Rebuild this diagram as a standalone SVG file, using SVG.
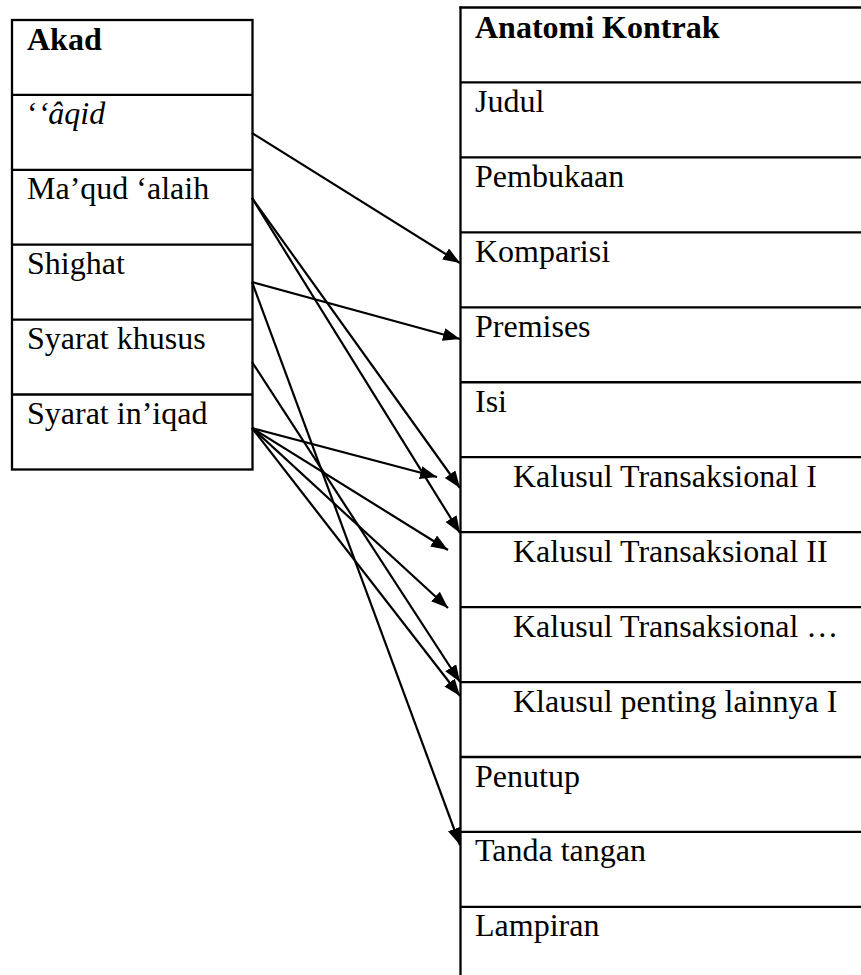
<svg xmlns="http://www.w3.org/2000/svg" width="861" height="975" viewBox="0 0 861 975">
<style>
text{font-family:"Liberation Serif","Times New Roman",serif;font-size:32px;fill:#000}
.b{font-weight:bold}
.i{font-style:italic}
.bd{stroke:#000;stroke-width:2.3;fill:none}
.c line{stroke:#000;stroke-width:2.2;marker-end:url(#ah)}
</style>
<defs>
<marker id="ah" markerUnits="userSpaceOnUse" markerWidth="18" markerHeight="14" refX="17" refY="6.5" orient="auto">
<path d="M0,0 L17,6.5 L0,13 z" fill="#000"/>
</marker>
</defs>
<rect width="861" height="975" fill="#fff"/>
<g id="akad">
<rect class="bd" x="12" y="20" width="240.5" height="449.5"/>
<g id="akad-title"><text class="b" x="27" y="50">Akad</text></g>
<g id="aqid"><line class="bd" x1="12" y1="94.9" x2="252.5" y2="94.9"/><text x="27" y="124.4">‘<tspan class="i">‘âqid</tspan></text></g>
<g id="maqud"><line class="bd" x1="12" y1="169.8" x2="252.5" y2="169.8"/><text x="27" y="199.3">Ma’qud ‘alaih</text></g>
<g id="shighat"><line class="bd" x1="12" y1="244.7" x2="252.5" y2="244.7"/><text x="27" y="274.2">Shighat</text></g>
<g id="syarat-khusus"><line class="bd" x1="12" y1="319.6" x2="252.5" y2="319.6"/><text x="27" y="349.1">Syarat khusus</text></g>
<g id="syarat-iniqad"><line class="bd" x1="12" y1="394.5" x2="252.5" y2="394.5"/><text x="27" y="424">Syarat in’iqad</text></g>
</g>
<g id="anatomi">
<line class="bd" x1="460.5" y1="6.4" x2="460.5" y2="975"/>
<g id="anatomi-title"><line class="bd" x1="459.4" y1="7.5" x2="861" y2="7.5"/><text class="b" x="475" y="38">Anatomi Kontrak</text></g>
<g id="judul"><line class="bd" x1="460.5" y1="82.45" x2="861" y2="82.45"/><text x="475" y="112">Judul</text></g>
<g id="pembukaan"><line class="bd" x1="460.5" y1="157.4" x2="861" y2="157.4"/><text x="475" y="186.9">Pembukaan</text></g>
<g id="komparisi"><line class="bd" x1="460.5" y1="232.35" x2="861" y2="232.35"/><text x="475" y="261.8">Komparisi</text></g>
<g id="premises"><line class="bd" x1="460.5" y1="307.3" x2="861" y2="307.3"/><text x="475" y="336.8">Premises</text></g>
<g id="isi"><line class="bd" x1="460.5" y1="382.25" x2="861" y2="382.25"/><text x="475" y="411.7">Isi</text></g>
<g id="kalusul-1"><line class="bd" x1="460.5" y1="457.2" x2="861" y2="457.2"/><text x="513" y="486.7">Kalusul Transaksional I</text></g>
<g id="kalusul-2"><line class="bd" x1="460.5" y1="532.15" x2="861" y2="532.15"/><text x="513" y="561.6">Kalusul Transaksional II</text></g>
<g id="kalusul-3"><line class="bd" x1="460.5" y1="607.1" x2="861" y2="607.1"/><text x="513" y="636.6">Kalusul Transaksional …</text></g>
<g id="klausul-penting"><line class="bd" x1="460.5" y1="682.05" x2="861" y2="682.05"/><text x="513" y="711.5">Klausul penting lainnya I</text></g>
<g id="penutup"><line class="bd" x1="460.5" y1="757" x2="861" y2="757"/><text x="475" y="786.5">Penutup</text></g>
<g id="tanda-tangan"><line class="bd" x1="460.5" y1="831.95" x2="861" y2="831.95"/><text x="475" y="861.4">Tanda tangan</text></g>
<g id="lampiran"><line class="bd" x1="460.5" y1="906.9" x2="861" y2="906.9"/><text x="475" y="936.4">Lampiran</text></g>
</g>
<g id="connectors" class="c">
<line x1="252" y1="133" x2="460" y2="263"/>
<line x1="252" y1="198" x2="460" y2="488"/>
<line x1="252" y1="198" x2="460" y2="533"/>
<line x1="252" y1="282" x2="460" y2="339"/>
<line x1="252" y1="282" x2="460" y2="845"/>
<line x1="252" y1="362" x2="460" y2="682"/>
<line x1="252" y1="428" x2="437" y2="477"/>
<line x1="252" y1="428" x2="448" y2="550"/>
<line x1="252" y1="428" x2="448" y2="608"/>
<line x1="252" y1="428" x2="460" y2="696"/>
</g>
</svg>
